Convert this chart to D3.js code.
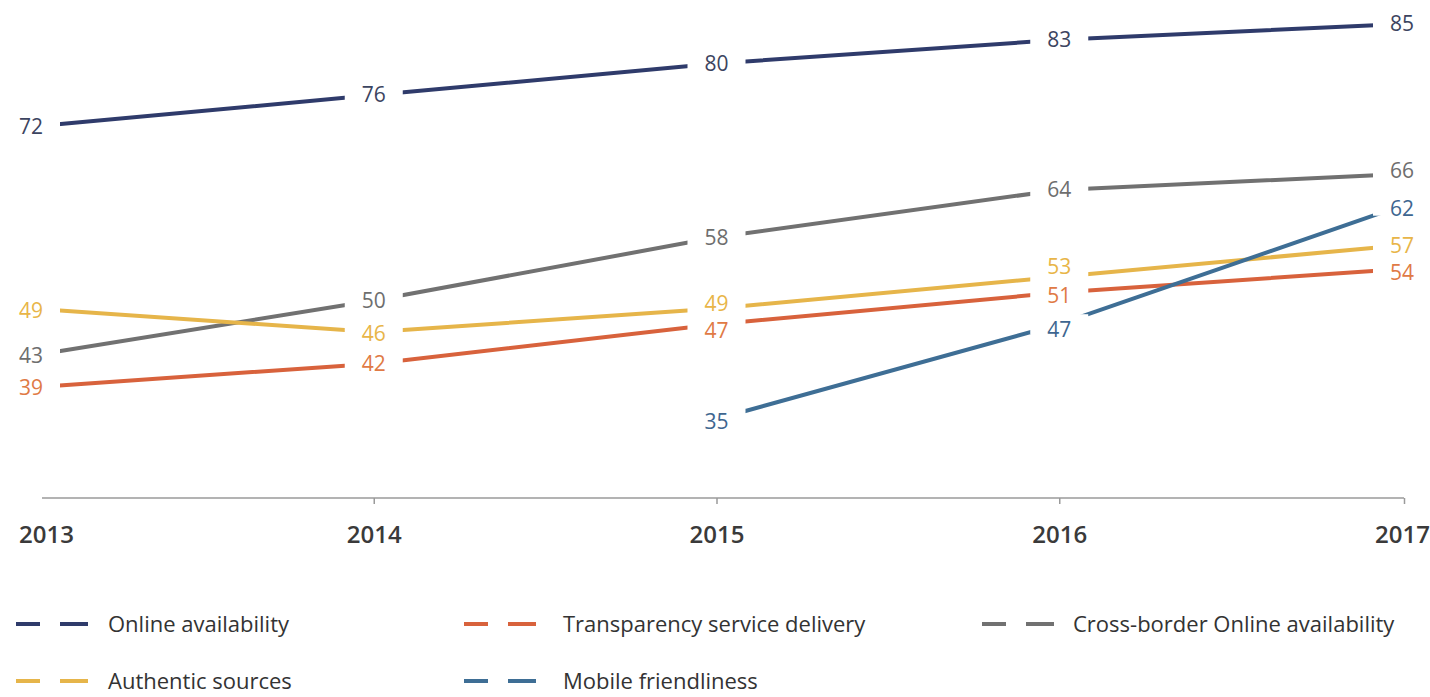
<!DOCTYPE html>
<html>
<head>
<meta charset="utf-8">
<script src="https://cdn.jsdelivr.net/npm/d3@7"></script>
<style>
  body { margin: 0; background: #fff; }
  text { font-family: "Open Sans", "Noto Sans", sans-serif; }
  .axis .domain { stroke: #9a9a9a; stroke-width: 1.5px; }
  .axis line { stroke: #9a9a9a; stroke-width: 1.5px; }
  .axis text { font-size: 24px; font-weight: 600; fill: #3a3a3a; }
  .value-label { font-size: 21px; }
  .legend text { font-size: 22px; fill: #333; }
</style>
</head>
<body>
<div id="chart"></div>
<script>
// data
const years = [2013, 2014, 2015, 2016, 2017]
const seriesNames = [
  "Online availability",
  "Transparency service delivery",
  "Cross-border Online availability",
  "Authentic sources",
  "Mobile friendliness"
]
const onlineAvailability = [72, 76, 80, 83, 85]
const transparency = [39, 42, 47, 51, 54]
const crossBorder = [43, 50, 58, 64, 66]
const authenticSources = [49, 46, 49, 53, 57]
const mobileFriendliness = [null, null, 35, 47, 62]

const colors = ["#2f3b6b", "#d8623c", "#717171", "#e6b54a", "#3e6e95"]
const labelColors = ["#3c4460", "#e07a45", "#6e6e6e", "#e8b548", "#3e6690"]

// small vertical nudges so crowded labels don't sit on each other (px)
const labelNudge = [
  [0, 0, 0, 0, 0],
  [0, 0, 6, 3, 4],
  [0, 0, 0, 0, -3],
  [2, 2, -5, -10, 0],
  [0, 0, 3, 5, 3]
]

const width = 1430, height = 697

const svg = d3.select("#chart")
  .append("svg")
  .attr("width", width)
  .attr("height", height)

const xPositionScale = d3.scalePoint().domain(years).range([31, 1402])
const yPositionScale = d3.scaleLinear().domain([25, 85]).range([498, 24])

const allSeries = [onlineAvailability, transparency, crossBorder, authenticSources, mobileFriendliness]
  .map((vals, i) => ({
    name: seriesNames[i],
    color: colors[i],
    labelColor: labelColors[i],
    points: years.map((y, j) => ({ year: y, value: vals[j], nudge: labelNudge[i][j] }))
  }))

// x axis
const xAxis = d3.axisBottom(xPositionScale).tickSize(6).tickSizeOuter(0).tickPadding(22)
const axisG = svg.append("g")
  .attr("class", "axis x-axis")
  .attr("transform", "translate(0," + yPositionScale(25) + ")")
  .call(xAxis)

axisG.select(".domain").attr("d", "M42,0H1404")
axisG.selectAll(".tick").filter(d => d === 2013).select("line").remove()
axisG.selectAll(".tick").filter(d => d === 2013).select("text").attr("x", 15)
axisG.selectAll(".tick").filter(d => d === 2017).select("line").attr("x1", 2).attr("x2", 2)

const line = d3.line()
  .defined(d => d.value !== null)
  .x(d => xPositionScale(d.year))
  .y(d => yPositionScale(d.value))

svg.selectAll(".series-line")
  .data(allSeries)
  .enter()
  .append("path")
  .attr("class", "series-line")
  .attr("fill", "none")
  .attr("stroke", d => d.color)
  .attr("stroke-width", 4)
  .attr("d", d => line(d.points))

// labels: a white patch cuts the line at each point, text goes on top
const labelData = allSeries.flatMap(s =>
  s.points.filter(p => p.value !== null).map(p => ({ ...p, color: s.labelColor })))

svg.selectAll(".label-patch")
  .data(labelData)
  .enter()
  .append("rect")
  .attr("class", "label-patch")
  .attr("x", d => xPositionScale(d.year) - 29)
  .attr("y", d => yPositionScale(d.value) - 10)
  .attr("width", 58)
  .attr("height", 20)
  .attr("fill", "#fff")

svg.selectAll(".value-label")
  .data(labelData)
  .enter()
  .append("text")
  .attr("class", "value-label")
  .attr("x", d => xPositionScale(d.year))
  .attr("y", d => yPositionScale(d.value) + d.nudge)
  .attr("text-anchor", "middle")
  .attr("dy", "0.35em")
  .attr("fill", d => d.color)
  .text(d => d.value)

// legend
const legendX = [16, 464, 982]
const legendY = [624, 681]

const legend = svg.append("g").attr("class", "legend")
  .selectAll("g")
  .data(allSeries)
  .enter()
  .append("g")
  .attr("transform", (d, i) => "translate(" + legendX[i % 3] + "," + legendY[Math.floor(i / 3)] + ")")

legend.append("line")
  .attr("x1", 0)
  .attr("x2", 72)
  .attr("stroke", d => d.color)
  .attr("stroke-width", 4)
  .style("stroke-dasharray", "24 20 28")

legend.append("text")
  .attr("x", (d, i) => i % 3 === 0 ? 92 : (i % 3 === 1 ? 99 : 91))
  .attr("dy", "0.35em")
  .text(d => d.name)
</script>
</body>
</html>
